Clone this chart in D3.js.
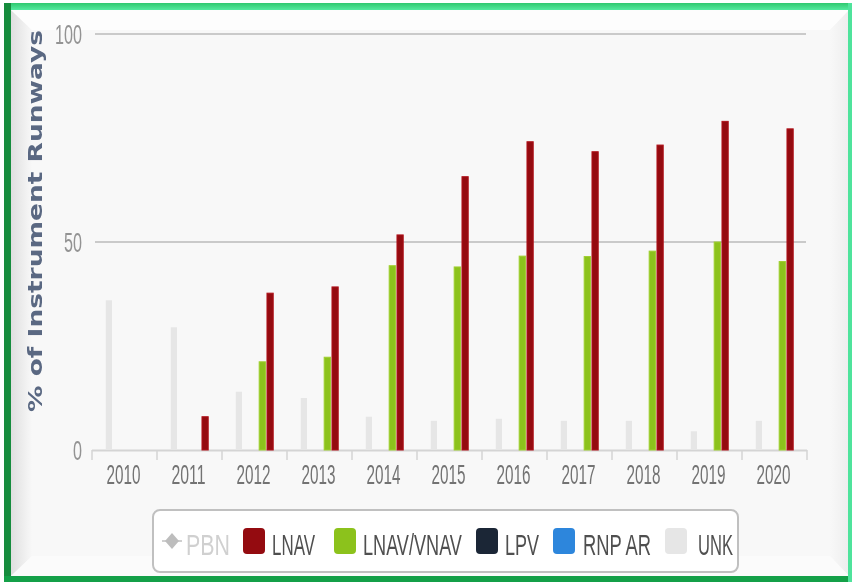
<!DOCTYPE html>
<html><head><meta charset="utf-8">
<script src="https://cdn.jsdelivr.net/npm/d3@7"></script>
<style>html,body{margin:0;padding:0;background:#fff;}svg{display:block;}</style>
</head><body>
<svg id="c" width="854" height="582"></svg>
<script>
const years = ["2010","2011","2012","2013","2014","2015","2016","2017","2018","2019","2020"];
const columnSeries = ["UNK","RNP AR","LPV","LNAV/VNAV","LNAV"];
const unk      = [36, 29.5, 14, 12.5, 8, 7, 7.5, 7, 7, 4.5, 7];
const rnpAr    = [0, 0, 0, 0, 0, 0, 0, 0, 0, 0, 0];
const lpv      = [0, 0, 0, 0, 0, 0, 0, 0, 0, 0, 0];
const lnavVnav = [0, 0, 21.2, 22.3, 44.3, 44, 46.6, 46.5, 47.8, 50, 45.3];
const lnav     = [0, 8, 37.7, 39.2, 51.7, 65.7, 74.1, 71.7, 73.3, 79, 77.2];
const yTicks = [0, 50, 100];
const legendNames = ["PBN","LNAV","LNAV/VNAV","LPV","RNP AR","UNK"];

const colors = {"PBN":"#bdbdbd","LNAV":"#940b10","LNAV/VNAV":"#8cc21c","LPV":"#1b2636","RNP AR":"#2d86dc","UNK":"#e6e6e6"};
const valuesBy = {"UNK":unk,"RNP AR":rnpAr,"LPV":lpv,"LNAV/VNAV":lnavVnav,"LNAV":lnav};

const svg = d3.select("#c");
const defs = svg.append("defs");
const lg = defs.append("linearGradient").attr("id","leftShade").attr("x1","0").attr("x2","1");
lg.append("stop").attr("offset","0").attr("stop-color","#dedede");
lg.append("stop").attr("offset","1").attr("stop-color","#f8f8f8");
const rg = defs.append("linearGradient").attr("id","rightShade").attr("x1","0").attr("x2","1");
rg.append("stop").attr("offset","0").attr("stop-color","#f8f8f8");
rg.append("stop").attr("offset","1").attr("stop-color","#ededed");
const tg = defs.append("linearGradient").attr("id","topG").attr("x1","0").attr("y1","0").attr("x2","0").attr("y2","1");
tg.append("stop").attr("offset","0").attr("stop-color","#2fc86f");
tg.append("stop").attr("offset","1").attr("stop-color","#55eaa0");
defs.append("filter").attr("id","soft").append("feGaussianBlur").attr("stdDeviation",0.45);

// panel
svg.append("rect").attr("x",0).attr("y",0).attr("width",854).attr("height",582).attr("fill","#ffffff");
svg.append("rect").attr("x",10).attr("y",9).attr("width",840).attr("height",568).attr("fill","#f8f8f8");
svg.append("path").attr("d","M10,9 L32,30 L32,556 L10,577 Z").attr("fill","url(#leftShade)");
svg.append("path").attr("d","M10,9 L850,9 L830,30 L32,30 Z").attr("fill","#fdfdfd");
svg.append("path").attr("d","M850,9 L850,577 L830,556 L830,30 Z").attr("fill","url(#rightShade)");
svg.append("path").attr("d","M10,577 L850,577 L830,556 L32,556 Z").attr("fill","#fbfbfb");
// green frame
svg.append("rect").attr("x",4).attr("y",3).attr("width",848).attr("height",7).attr("fill","url(#topG)");
svg.append("rect").attr("x",4).attr("y",3).attr("width",7).attr("height",579).attr("fill","#168c3d");
svg.append("rect").attr("x",4).attr("y",576).attr("width",848).attr("height",6).attr("fill","#14a048");
svg.append("rect").attr("x",848).attr("y",3).attr("width",4).attr("height",579).attr("fill","#4fe39c");

const x0 = d3.scaleBand().domain(years).range([92, 807]).paddingInner(0).paddingOuter(0);
const bw = x0.bandwidth();
const x1 = d3.scaleBand().domain(columnSeries).range([0.2*bw, 0.8*bw]);
const y = d3.scaleLinear().domain([0,100]).range([450, 34]);

function fitText(sel, anchorX, anchorY, target, anchor) {
  sel.each(function(d){
    const node = this;
    const nat = node.getComputedTextLength();
    const w = typeof target === "function" ? target(d) : target;
    const ax = typeof anchorX === "function" ? anchorX(d) : anchorX;
    const ay = typeof anchorY === "function" ? anchorY(d) : anchorY;
    const s = w / nat;
    d3.select(node).attr("x",0).attr("y",0).attr("text-anchor",anchor)
      .attr("transform",`translate(${ax},${ay}) scale(${s},1)`);
  });
}

// gridlines
svg.append("g").selectAll("line").data(yTicks.filter(d=>d>0)).join("line")
  .attr("x1",95).attr("x2",806).attr("y1",d=>y(d)).attr("y2",d=>y(d))
  .attr("stroke","#cacaca").attr("stroke-width",2);

// y labels
const yl = svg.append("g").attr("filter","url(#soft)").selectAll("text").data(yTicks).join("text")
  .attr("font-family","Liberation Sans, Arial, sans-serif").attr("font-size",27)
  .attr("fill","#939393").text(d=>d);
fitText(yl, 82, d=>y(d)+10, d=>String(d).length*9, "end");

// x axis line and ticks
svg.append("line").attr("x1",92).attr("x2",807).attr("y1",450.5).attr("y2",450.5).attr("stroke","#d4d4d4").attr("stroke-width",2);
svg.append("g").selectAll("line").data(d3.range(years.length+1)).join("line")
  .attr("x1",i=>92+i*bw).attr("x2",i=>92+i*bw).attr("y1",450).attr("y2",460)
  .attr("stroke","#d4d4d4").attr("stroke-width",1.5);

// x labels
const xl = svg.append("g").attr("filter","url(#soft)").selectAll("text").data(years).join("text")
  .attr("font-family","Liberation Sans, Arial, sans-serif").attr("font-size",27)
  .attr("fill","#737373").text(d=>d);
fitText(xl, d=>x0(d)+bw/2-1, 484, 34, "middle");

// bars
const barW = x1.bandwidth()*0.8;
const gBars = svg.append("g");
columnSeries.forEach(s=>{
  const vals = valuesBy[s];
  gBars.append("g").selectAll("rect").data(years.map((yr,i)=>({yr, v: vals[i]})).filter(d=>d.v>0)).join("rect")
    .attr("x",d=>x0(d.yr)+x1(s)+(x1.bandwidth()-barW)/2)
    .attr("y",d=>y(d.v))
    .attr("width",barW)
    .attr("height",d=>y(0)-y(d.v))
    .attr("fill",colors[s])
    .attr("stroke", s==="LNAV" ? "#b0121a" : (s==="LNAV/VNAV" ? "#9fcf2e" : "none"))
    .attr("stroke-width",1);
});

// y axis title
svg.append("text")
  .attr("transform","translate(42,221) rotate(-90)")
  .attr("text-anchor","middle")
  .attr("filter","url(#soft)")
  .attr("font-family","DejaVu Sans, sans-serif").attr("font-weight","bold").attr("font-size",19)
  .attr("fill","#5a6882")
  .attr("textLength",382).attr("lengthAdjust","spacingAndGlyphs")
  .text("% of Instrument Runways");

// legend
svg.append("rect").attr("x",153).attr("y",510).attr("width",585).attr("height",62).attr("rx",7)
  .attr("fill","#ffffff").attr("stroke","#c0c0c0").attr("stroke-width",2);
const legendItems = [
  {name:"PBN", sx:165, sw:14, tx:186, tw:44, marker:"diamond", tc:"#d0d0d0"},
  {name:"LNAV", sx:243, sw:22, tx:272, tw:43},
  {name:"LNAV/VNAV", sx:334, sw:22, tx:363, tw:99},
  {name:"LPV", sx:476, sw:22, tx:505, tw:34},
  {name:"RNP AR", sx:553, sw:22, tx:583, tw:68},
  {name:"UNK", sx:665, sw:22, tx:698, tw:35}
];
const lgG = svg.append("g");
legendItems.forEach(it=>{
  if (it.marker==="diamond") {
    lgG.append("line").attr("x1",it.sx-3).attr("x2",it.sx+17).attr("y1",541).attr("y2",541)
      .attr("stroke","#cfcfcf").attr("stroke-width",2);
    lgG.append("path").attr("d",`M${it.sx+7},533 L${it.sx+14},541 L${it.sx+7},549 L${it.sx},541 Z`).attr("fill",colors[it.name]);
  } else {
    lgG.append("rect").attr("x",it.sx).attr("y",528).attr("width",it.sw).attr("height",26).attr("rx",4)
      .attr("fill",colors[it.name]);
  }
  const t = lgG.append("text").datum(it)
    .attr("filter","url(#soft)")
    .attr("font-family","Liberation Sans, Arial, sans-serif").attr("font-size",30)
    .attr("fill",it.tc || "#505050")
    .text(it.name);
  fitText(t, it.tx, 555, it.tw, "start");
});
</script>
</body></html>
